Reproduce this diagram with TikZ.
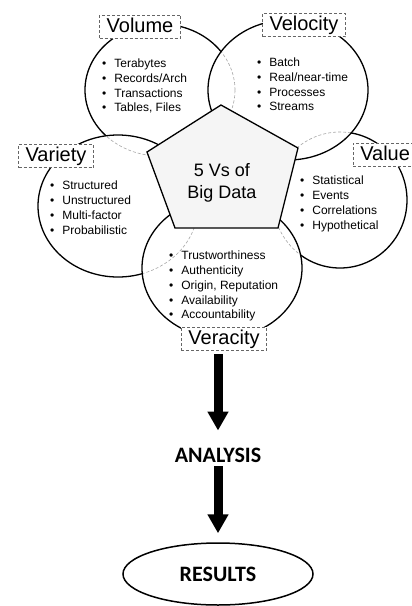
\documentclass[tikz,border=0pt]{standalone}
\usepackage{fontspec}
\setmainfont{Liberation Sans}
\newfontfamily\carlito{Carlito}
\usetikzlibrary{arrows.meta,shapes.geometric}
\newcommand{\vitem}[1]{\textbullet\hspace{8pt}#1}
\tikzset{
  vring/.style={draw=black,line width=1.3pt},
  hidden/.style={draw=black!35,densely dashed,line width=0.6pt},
  vlabel/.style={draw=black!60,densely dashed,line width=0.6pt,fill=white,
    font=\fontsize{20}{22}\selectfont,inner xsep=7pt,inner ysep=2.5pt,
    text height=14.5pt,text depth=4pt},
  vlist/.style={anchor=north west,align=left,inner sep=0pt,
    font=\fontsize{12}{14.7}\selectfont},
  fatarrow/.style={line width=9pt,-{Triangle[width=20pt,length=19pt]}},
  bigword/.style={font=\carlito\bfseries\fontsize{22}{24}\selectfont,inner sep=0pt}
}
\begin{document}
\begin{tikzpicture}[x=1pt,y=-1pt]
  \useasboundingbox (0,0) rectangle (412,606);
  \clip (0,0) rectangle (412,606);
  % the five Vs, later ones lie on top
  \def\vshapes{160/90/75/66, 340/200/67/68, 288/90/80/70, 118/206/80/71, 222/268/80/70}
  \foreach \cx/\cy/\a/\b [count=\k] in \vshapes {
    \fill[white] (\cx,\cy) ellipse [x radius=\a pt,y radius=\b pt];
    \begin{scope}
      \clip (\cx,\cy) ellipse [x radius=\a pt,y radius=\b pt];
      \foreach \px/\py/\pa/\pb [count=\j] in \vshapes {
        \ifnum\j<\k \draw[hidden] (\px,\py) ellipse [x radius=\pa pt,y radius=\pb pt];\fi}
    \end{scope}
    \draw[vring] (\cx,\cy) ellipse [x radius=\a pt,y radius=\b pt];
  }
  \filldraw[fill=black!4,vring,line join=miter]
    (221,105) -- (298,148) -- (278,228) -- (175,228) -- (147,152) -- cycle;
  \node[font=\fontsize{18}{22}\selectfont,align=center] (core) at (222,183) {5 Vs of\\Big Data};

  \node[vlabel] (volume) at (140,27) {Volume};
  \node[vlabel] (velocity) at (304,25) {Velocity};
  \node[vlabel] (variety) at (56,156) {Variety};
  \node[vlabel,anchor=west] (value) at (353,155) {Value};
  \node[vlabel] (veracity) at (224,339) {Veracity};

  \node[vlist] (volumelist) at (102,59)
    {\vitem{Terabytes}\\\vitem{Records/Arch}\\\vitem{Transactions}\\\vitem{Tables, Files}};
  \node[vlist] (velocitylist) at (257,58)
    {\vitem{Batch}\\\vitem{Real/near-time}\\\vitem{Processes}\\\vitem{Streams}};
  \node[vlist] (varietylist) at (50,181)
    {\vitem{Structured}\\\vitem{Unstructured}\\\vitem{Multi-factor}\\\vitem{Probabilistic}};
  \node[vlist] (valuelist) at (300,176)
    {\vitem{Statistical}\\\vitem{Events}\\\vitem{Correlations}\\\vitem{Hypothetical}};
  \node[vlist] (veracitylist) at (169,251)
    {\vitem{Trustworthiness}\\\vitem{Authenticity}\\\vitem{Origin, Reputation}\\\vitem{Availability}\\\vitem{Accountability}};

  \node[bigword] (analysis) at (218,455) {ANALYSIS};
  \node[bigword,draw,ellipse,line width=1.5pt,minimum width=190pt,minimum height=62pt]
    (results) at (218,574) {RESULTS};
  \draw[fatarrow,shorten <=3pt,shorten >=17pt] (analysis.north |- veracity.south) -- (analysis.north);
  \draw[fatarrow,shorten <=4pt,shorten >=9pt] (analysis.south) -- (results.north);
\end{tikzpicture}
\end{document}
